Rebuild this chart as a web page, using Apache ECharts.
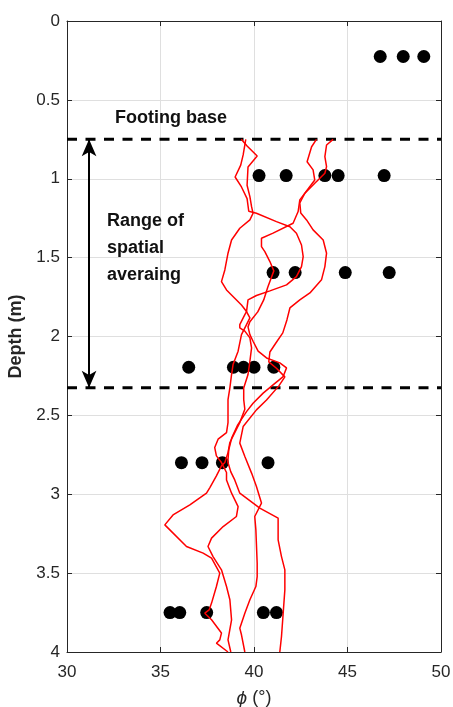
<!DOCTYPE html>
<html>
<head>
<meta charset="utf-8">
<script src="https://cdn.jsdelivr.net/npm/echarts@6/dist/echarts.min.js"></script>
<style>
  html, body { margin: 0; padding: 0; background: #ffffff; }
  #chart { width: 453px; height: 707px; }
</style>
</head>
<body>
<div id="chart"></div>
<script>
// Measured friction angles (deg) at each test depth (m)
const testDepths = [0.225, 0.98, 1.595, 2.195, 2.80, 3.75];
const measuredPhi = [
  [46.75, 47.98, 49.08],
  [40.27, 41.72, 43.79, 44.50, 46.96],
  [41.02, 42.20, 44.88, 47.23],
  [36.51, 38.90, 39.44, 40.00, 41.06],
  [36.12, 37.22, 38.31, 40.75],
  [35.51, 36.03, 37.47, 40.50, 41.20]
];

// Simulated friction-angle profiles, [phi (deg), depth (m)]
const realization1 = [
  [39.56,0.75],[39.42,0.849],[39.29,0.914],[38.99,0.989],[39.33,1.052],[39.63,1.126],[39.72,1.206],
  [40.13,1.219],[41.20,1.272],[41.92,1.304],[42.27,1.345],[42.54,1.420],[42.63,1.494],[42.54,1.557],
  [42.27,1.620],[41.74,1.673],[40.85,1.711],[40.13,1.740],[39.68,1.768],[39.60,1.842],[39.51,1.861],
  [39.24,1.925],[39.24,1.945],[39.51,1.966],[39.78,2.009],[39.87,2.072],[39.78,2.157],[39.68,2.241],
  [39.45,2.326],[39.45,2.400],[39.51,2.461],[39.24,2.546],[38.97,2.609],[38.71,2.672],[38.61,2.736],
  [38.44,2.799],[38.26,2.820],[37.99,2.883],[37.64,2.958],[37.46,2.993],[36.57,3.067],[35.67,3.131],
  [35.23,3.194],[35.50,3.226],[36.39,3.331],[37.28,3.373],[37.73,3.405],[38.17,3.500],[37.99,3.585],
  [37.73,3.690],[37.60,3.733],[37.37,3.754],[37.73,3.796],[38.26,3.880],[38.17,3.923],[37.99,3.944],
  [38.61,4.0]
];
const realization2 = [
  [39.32,0.75],[39.63,0.792],[40.17,0.856],[39.68,0.925],[39.63,1.041],[39.78,1.113],[39.87,1.177],
  [39.95,1.219],[39.78,1.261],[39.24,1.314],[38.80,1.388],[38.61,1.472],[38.44,1.578],[38.26,1.652],
  [38.53,1.705],[38.97,1.757],[39.33,1.800],[39.60,1.842],[39.78,1.882],[39.60,1.925],[39.33,1.988],
  [39.15,2.093],[38.88,2.178],[38.80,2.241],[38.71,2.326],[38.61,2.400],[38.61,2.546],[38.53,2.609],
  [38.08,2.651],[37.90,2.704],[37.99,2.757],[38.26,2.799],[38.53,2.862],[38.53,2.909],[38.80,2.993],
  [39.15,3.078],[39.06,3.141],[38.35,3.205],[37.73,3.278],[37.54,3.331],[37.81,3.395],[38.26,3.479],
  [38.53,3.585],[38.71,3.669],[38.80,3.796],[38.61,3.923],[38.76,4.0]
];
const realization3 = [
  [43.34,0.75],[43.08,0.797],[42.84,0.892],[43.16,0.944],[43.25,1.008],[42.72,1.092],[42.45,1.134],
  [42.36,1.208],[42.09,1.282],[41.02,1.345],[40.40,1.377],[40.40,1.430],[40.58,1.462],[40.85,1.525],
  [41.06,1.584],[40.74,1.686],[40.52,1.768],[40.20,1.844],[39.78,1.907],[39.68,1.939],[39.78,1.988],
  [39.95,2.030],[40.22,2.093],[40.67,2.136],[41.38,2.167],[41.74,2.199],[41.56,2.254],[41.02,2.307],
  [40.49,2.359],[39.95,2.423],[39.60,2.476],[39.13,2.560],[38.81,2.643],[38.65,2.719],[38.60,2.795],
  [38.76,2.858],[38.97,2.909],[39.24,2.993],[40.31,3.088],[41.29,3.151],[41.29,3.289],[41.47,3.395],
  [41.65,3.479],[41.65,3.606],[41.56,3.754],[41.47,3.902],[41.38,4.0]
];
const realization4 = [
  [44.23,0.75],[43.88,0.786],[43.79,0.860],[43.88,0.923],[43.79,0.965],[43.25,1.029],[42.72,1.092],
  [42.45,1.153],[42.50,1.217],[42.81,1.261],[43.16,1.324],[43.70,1.388],[43.88,1.472],[43.79,1.557],
  [43.61,1.641],[42.99,1.724],[42.45,1.768],[41.92,1.819],[41.76,1.895],[41.54,1.977],[41.17,2.041],
  [40.85,2.098],[40.79,2.161],[41.20,2.201],[41.65,2.256],[41.33,2.313],[40.67,2.402],[40.13,2.465],
  [39.42,2.571],[39.24,2.676],[39.51,2.761],[39.87,2.866],[40.13,2.951],[40.40,3.056],[40.04,3.141],
  [40.10,3.226],[40.17,3.437],[40.17,3.522],[40.10,3.585],[39.78,3.669],[39.51,3.754],[39.24,3.849],
  [39.33,3.891],[39.51,4.0]
];

// Footing base and bottom of the averaging zone (m), arrow position (deg)
const footingBaseDepth = 0.75;
const averagingBottomDepth = 2.325;
const arrowPhi = 31.18;

// Axis ranges and ticks
const phiRange = [30, 50];
const phiStep = 5;
const depthRange = [0, 4];
const depthStep = 0.5;

const FONT = "'Liberation Sans', Arial, Helvetica, sans-serif";
const AXIS_COLOR = '#262626';
const GRID_COLOR = '#dfdfdf';

const scatterData = [];
testDepths.forEach((d, i) => {
  measuredPhi[i].forEach(p => scatterData.push([p, d]));
});

const profiles = [realization1, realization2, realization3, realization4];

const chart = echarts.init(document.getElementById('chart'), null, { renderer: 'canvas' });

const baseX = {
  type: 'value', min: phiRange[0], max: phiRange[1], interval: phiStep,
  axisLine: { show: true, onZero: false, lineStyle: { color: AXIS_COLOR, width: 1 } },
  axisTick: { show: true, inside: true, length: 5, lineStyle: { color: AXIS_COLOR } }
};
const baseY = {
  type: 'value', inverse: true, min: depthRange[0], max: depthRange[1], interval: depthStep,
  axisLine: { show: true, onZero: false, lineStyle: { color: AXIS_COLOR, width: 1 } },
  axisTick: { show: true, inside: true, length: 5, lineStyle: { color: AXIS_COLOR } }
};

const series = [
  {
    type: 'scatter',
    data: scatterData,
    symbol: 'circle',
    symbolSize: 13,
    itemStyle: { color: '#000000', opacity: 1 },
    z: 2
  },
  {
    type: 'line',
    data: [[phiRange[0], footingBaseDepth], [phiRange[1], footingBaseDepth]],
    symbol: 'none',
    lineStyle: { color: '#000000', width: 3, type: [10, 8.5] },
    z: 3
  },
  {
    type: 'line',
    data: [[phiRange[0], averagingBottomDepth], [phiRange[1], averagingBottomDepth]],
    symbol: 'none',
    lineStyle: { color: '#000000', width: 3, type: [10, 8.5] },
    z: 3,
    markLine: {
      silent: true,
      symbol: ['arrow', 'arrow'],
      symbolSize: [11, 17],
      label: { show: false },
      lineStyle: { color: '#000000', width: 2, type: 'solid' },
      data: [[{ coord: [arrowPhi, footingBaseDepth] }, { coord: [arrowPhi, averagingBottomDepth] }]]
    }
  }
];
profiles.forEach(p => {
  series.push({
    type: 'line',
    data: p,
    symbol: 'none',
    smooth: false,
    lineStyle: { color: '#ff0000', width: 1.5 },
    z: 4
  });
});

chart.setOption({
  animation: false,
  backgroundColor: '#ffffff',
  grid: { left: 67, right: 12, top: 21, bottom: 55, containLabel: false, outerBoundsMode: 'none' },
  xAxis: [
    Object.assign({}, baseX, {
      position: 'bottom',
      axisLabel: { color: AXIS_COLOR, fontSize: 17, fontFamily: FONT, margin: 12 },
      splitLine: { show: true, lineStyle: { color: GRID_COLOR, width: 1 } },
      name: '{i|\u03D5} (\u00B0)',
      nameLocation: 'middle',
      nameGap: 37,
      nameTextStyle: {
        color: AXIS_COLOR, fontSize: 18, fontFamily: FONT,
        rich: { i: { fontStyle: 'italic', fontSize: 19, fontFamily: FONT, color: AXIS_COLOR } }
      }
    }),
    Object.assign({}, baseX, {
      position: 'top',
      axisLabel: { show: false },
      splitLine: { show: false }
    })
  ],
  yAxis: [
    Object.assign({}, baseY, {
      position: 'left',
      axisLabel: { color: AXIS_COLOR, fontSize: 17, fontFamily: FONT, margin: 7 },
      splitLine: { show: true, lineStyle: { color: GRID_COLOR, width: 1 } },
      name: 'Depth (m)',
      nameLocation: 'middle',
      nameRotate: 90,
      nameGap: 30,
      nameTextStyle: { color: AXIS_COLOR, fontSize: 18, fontWeight: 'bold', fontFamily: FONT }
    }),
    Object.assign({}, baseY, {
      position: 'right',
      axisLabel: { show: false },
      splitLine: { show: false }
    })
  ],
  graphic: [
    {
      type: 'text', left: 115, top: 109, z: 10,
      style: { text: 'Footing base', fill: '#111111', font: 'bold 18px ' + FONT }
    },
    {
      type: 'text', left: 107, top: 208, z: 10,
      style: { text: 'Range of\nspatial\naveraing', fill: '#111111', font: 'bold 18px ' + FONT, lineHeight: 27 }
    }
  ],
  series: series
});
</script>
</body>
</html>
